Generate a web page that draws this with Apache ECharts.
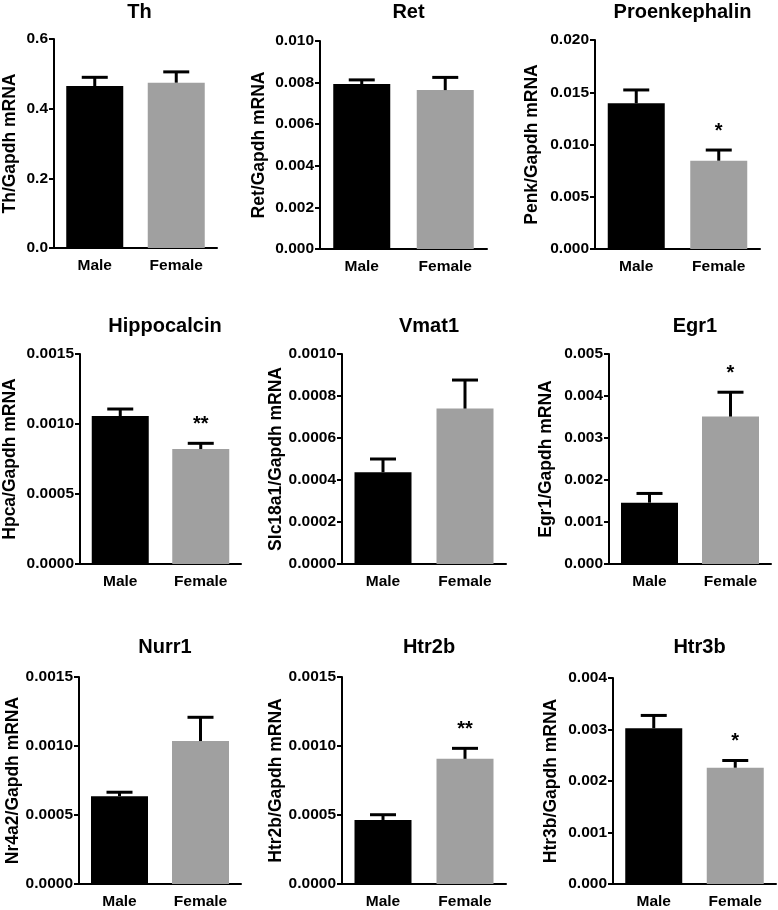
<!DOCTYPE html>
<html>
<head>
<meta charset="utf-8">
<script src="https://cdn.jsdelivr.net/npm/echarts@6/dist/echarts.min.js"></script>
<style>
html,body{margin:0;padding:0;background:#fff;}
#c{width:778px;height:910px;}
</style>
</head>
<body>
<div id="c"></div>
<script>
const categories = ['Male', 'Female'];
const titles = ['Th', 'Ret', 'Proenkephalin', 'Hippocalcin', 'Vmat1', 'Egr1', 'Nurr1', 'Htr2b', 'Htr3b'];
const yNames = ['Th/Gapdh mRNA', 'Ret/Gapdh mRNA', 'Penk/Gapdh mRNA', 'Hpca/Gapdh mRNA', 'Slc18a1/Gapdh mRNA', 'Egr1/Gapdh mRNA', 'Nr4a2/Gapdh mRNA', 'Htr2b/Gapdh mRNA', 'Htr3b/Gapdh mRNA'];
const yMax = [0.6, 0.010, 0.020, 0.0015, 0.0010, 0.005, 0.0015, 0.0015, 0.004];
const yStep = [0.2, 0.002, 0.005, 0.0005, 0.0002, 0.001, 0.0005, 0.0005, 0.001];
const yDecimals = [1, 3, 3, 4, 4, 3, 4, 4, 3];
const maleMean = [0.465, 0.00793, 0.01394, 0.001057, 0.000437, 0.00146, 0.000636, 0.000464, 0.003024];
const femaleMean = [0.4746, 0.00764, 0.00845, 0.000821, 0.00074, 0.00351, 0.001036, 0.000907, 0.002258];
const maleSem = [0.025, 0.0002, 0.00128, 0.00005, 0.000063, 0.00022, 0.000029, 0.000038, 0.000249];
const femaleSem = [0.031, 0.00061, 0.00102, 0.000041, 0.000136, 0.00058, 0.000172, 0.000076, 0.00014];
const femaleSig = ['', '', '*', '**', '', '*', '', '**', '*'];

// layout (pixels)
const gridBoxes = [
  [52, 39, 165, 209], [320, 41, 167, 208], [595, 40, 165, 209],
  [79, 354, 162, 210], [342, 354, 164, 210], [609, 354, 162, 210],
  [79, 677, 162, 209], [342, 677, 164, 210], [613, 678, 163, 209]
];
const titleTops = [-3, -3, -3, 311, 311, 311, 632, 632, 632];
const nameGaps = [35, 52, 54, 61, 57, 54, 57, 57, 53];

const FONT = '"Liberation Sans", Arial, Helvetica, sans-serif';
const chart = echarts.init(document.getElementById('c'), null, {renderer: 'canvas'});

const grid = [], xAxis = [], yAxis = [], series = [], title = [];
for (let i = 0; i < 9; i++) {
  const [l, t, w, h] = gridBoxes[i];
  grid.push({left: l, top: t, width: w, height: h, containLabel: false});
  title.push({
    text: titles[i], left: l + w / 2, top: titleTops[i], textAlign: 'center',
    textStyle: {fontFamily: FONT, fontWeight: 'bold', fontSize: 20, color: '#000'}
  });
  xAxis.push({
    type: 'category', gridIndex: i, data: categories,
    axisLine: {lineStyle: {color: '#000', width: 2}},
    axisTick: {alignWithLabel: true, length: 5, lineStyle: {color: '#000', width: 2}},
    axisLabel: {fontFamily: FONT, fontWeight: 'bold', fontSize: 15.5, color: '#000', margin: 10}
  });
  const dec = yDecimals[i];
  yAxis.push({
    type: 'value', gridIndex: i, min: 0, max: yMax[i], interval: yStep[i],
    name: yNames[i], nameLocation: 'middle', nameGap: nameGaps[i],
    nameTextStyle: {fontFamily: FONT, fontWeight: 'bold', fontSize: 17.5, color: '#000'},
    axisLine: {show: true, lineStyle: {color: '#000', width: 2}},
    axisTick: {show: true, length: 5, lineStyle: {color: '#000', width: 2}},
    splitLine: {show: false},
    axisLabel: {fontFamily: FONT, fontWeight: 'bold', fontSize: 15.5, color: '#000', margin: 6,
      formatter: v => v.toFixed(dec)}
  });
  series.push({
    type: 'bar', xAxisIndex: i, yAxisIndex: i, barWidth: 57,
    data: [
      {value: maleMean[i], itemStyle: {color: '#000'}},
      {value: femaleMean[i], itemStyle: {color: '#a0a0a0'}}
    ],
    silent: true
  });
  series.push({
    type: 'custom', xAxisIndex: i, yAxisIndex: i, silent: true, z: 5,
    data: [
      [0, maleMean[i], maleMean[i] + maleSem[i], ''],
      [1, femaleMean[i], femaleMean[i] + femaleSem[i], femaleSig[i]]
    ],
    renderItem: function (params, api) {
      const base = api.coord([api.value(0), api.value(1)]);
      const top = api.coord([api.value(0), api.value(2)]);
      const x = base[0];
      const children = [
        {type: 'line', shape: {x1: x, y1: base[1], x2: x, y2: top[1]}, style: {stroke: '#000', lineWidth: 3}},
        {type: 'line', shape: {x1: x - 13, y1: top[1], x2: x + 13, y2: top[1]}, style: {stroke: '#000', lineWidth: 3}}
      ];
      const sig = api.value(3);
      if (sig) {
        children.push({
          type: 'text',
          style: {text: sig, x: x, y: top[1] - 19, textAlign: 'center', textVerticalAlign: 'middle',
            font: 'bold 20px ' + FONT, fill: '#000'}
        });
      }
      return {type: 'group', children: children};
    }
  });
}

chart.setOption({
  backgroundColor: '#fff',
  animation: false,
  title: title,
  grid: grid,
  xAxis: xAxis,
  yAxis: yAxis,
  series: series
});
</script>
</body>
</html>
